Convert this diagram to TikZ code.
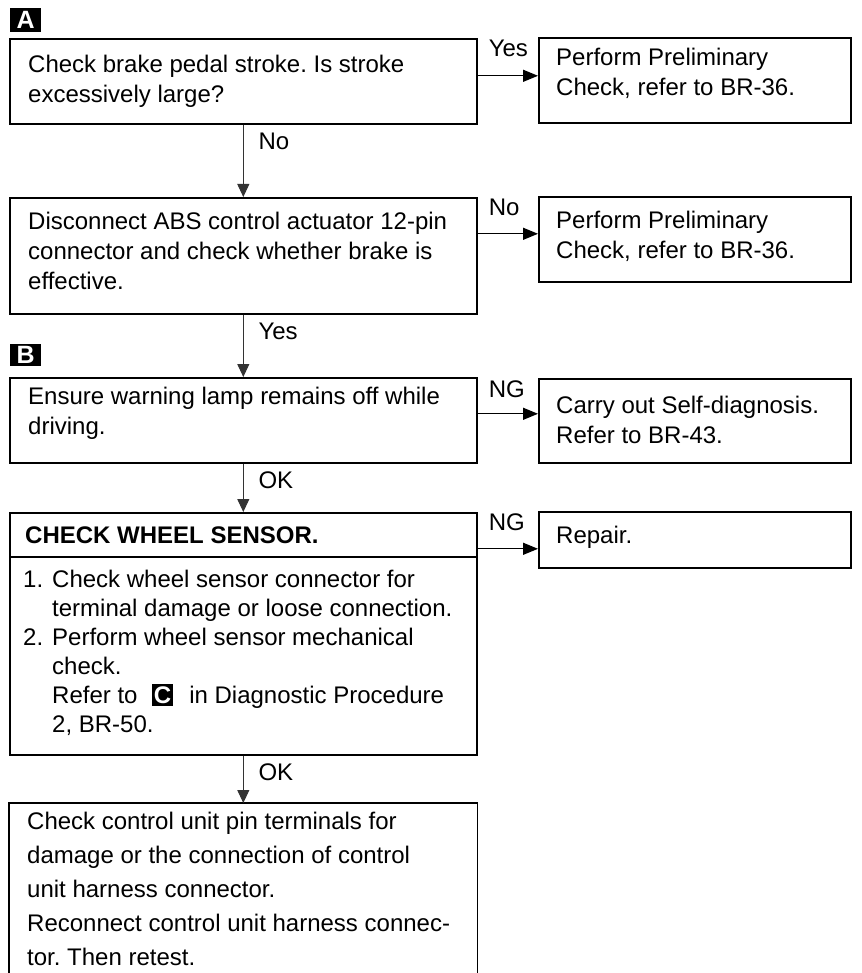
\documentclass[tikz,border=0pt]{standalone}
\usepackage{fontspec}
\setmainfont{Liberation Sans}
\usetikzlibrary{arrows.meta,positioning}

\frenchspacing
\newcommand{\blkbox}[1]{{\setlength{\fboxsep}{2.2pt}\colorbox{black}{\textcolor{white}{\bfseries #1}}}}

\begin{document}
\begin{tikzpicture}[
    x=1pt, y=-1pt,
    font=\fontsize{24}{30}\selectfont,
    box/.style={
        draw=black,
        line width=1.6pt,
        inner sep=0pt,
        minimum width=467pt,
        anchor=north west
    },
    rbox/.style={
        box,
        minimum width=312pt
    },
    txt/.style={
        anchor=north west,
        inner sep=0pt,
        align=left
    },
    tag/.style={
        fill=black,
        text=white,
        font=\fontsize{25}{26}\selectfont\bfseries,
        inner sep=0pt,
        minimum width=31pt,
        minimum height=24pt,
        anchor=north west
    },
    varrow/.style={
        -{Triangle[length=13pt,width=12pt]},
        draw=black!80,
        line width=1pt
    },
    harrow/.style={
        -{Triangle[length=15pt,width=12pt]},
        draw=black,
        line width=1.3pt
    },
    vlabel/.style={
        anchor=north west,
        inner sep=0pt,
        xshift=15pt,
        yshift=-8pt
    },
    hlabel/.style={
        anchor=north west,
        inner sep=0pt,
        xshift=11pt,
        yshift=-3pt
    }
]

\useasboundingbox (0,0) rectangle (861,973);

\node[tag] (tagA) at (10,8) {A};
\node[box, minimum height=85pt] (q1) at (9,38) {};
\node[rbox, minimum height=85pt] (r1) at (538,37) {};
\node[box, minimum height=116pt] (q2) at (9,197) {};
\node[rbox, minimum height=85pt] (r2) at (538,196) {};
\node[tag, minimum height=22pt] (tagB) at (10,344) {B};
\node[box, minimum height=85pt] (q3) at (9,377) {};
\node[rbox, minimum height=84pt] (r3) at (538,378) {};
\node[box, minimum height=242pt] (q4) at (9,512) {};
\node[box, minimum height=44pt] (q4h) at (9,512) {};
\node[rbox, minimum height=56pt] (r4) at (538,511) {};
\node[box, draw=none, minimum height=170pt] (q5) at (9,803) {};
\draw[line width=1.6pt] (q5.south west) -- (q5.north west) -- (q5.north east) -- (q5.south east);

\node[txt] (q1t) at ([xshift=19pt,yshift=-17pt]q1.north west) {Check brake pedal stroke. Is stroke\\excessively large?};
\node[txt] (r1t) at ([xshift=18pt,yshift=-11pt]r1.north west) {Perform Preliminary\\Check, refer to BR-36.};
\node[txt] (q2t) at ([xshift=19pt,yshift=-15pt]q2.north west) {Disconnect ABS control actuator 12-pin\\connector and check whether brake is\\effective.};
\node[txt] (r2t) at ([xshift=18pt,yshift=-15pt]r2.north west) {Perform Preliminary\\Check, refer to BR-36.};
\node[txt] (q3t) at ([xshift=19pt,yshift=-10pt]q3.north west) {Ensure warning lamp remains off while\\driving.};
\node[txt] (r3t) at ([xshift=18pt,yshift=-18pt]r3.north west) {Carry out Self-diagnosis.\\Refer to BR-43.};
\node[txt, anchor=west, font=\fontsize{24}{30}\selectfont\bfseries] (q4ht) at ([xshift=16pt]q4h.west) {CHECK WHEEL SENSOR.};
\node[txt, font=\fontsize{24}{29}\selectfont] (q4t) at ([xshift=14pt,yshift=-12pt]q4h.south west) {\makebox[29pt][l]{1.}Check wheel sensor connector for\\\hspace*{29pt}terminal damage or loose connection.\\\makebox[29pt][l]{2.}Perform wheel sensor mechanical\\\hspace*{29pt}check.\\\hspace*{29pt}Refer to\hspace{14pt}\blkbox{C}\hspace{16pt}in Diagnostic Procedure\\\hspace*{29pt}2, BR-50.};
\node[txt] (r4t) at ([xshift=18pt,yshift=-15pt]r4.north west) {Repair.};
\node[txt, font=\fontsize{24}{34}\selectfont] (q5t) at ([xshift=18pt,yshift=-9pt]q5.north west) {Check control unit pin terminals for\\damage or the connection of control\\unit harness connector.\\Reconnect control unit harness connec-\\tor. Then retest.};

\foreach \a/\b/\t in {q1/q2/No,q2/q3/Yes,q3/q4/OK,q4/q5/OK}{
    \draw[varrow] (\a.south) -- (\b.north);
    \node[vlabel] (lab-\a) at (\a.south) {\t};
}

\foreach \a/\b/\s/\t in {q1/r1/4.5/Yes,q2/r2/5.5/No,q3/r3/7/NG,q4/r4/-9/NG}{
    \draw[harrow] ([yshift=\s pt]\b.west -| \a.east) -- ([yshift=\s pt]\b.west);
    \node[hlabel] (lab-\b) at (\a.east |- \b.north) {\t};
}

\end{tikzpicture}
\end{document}
